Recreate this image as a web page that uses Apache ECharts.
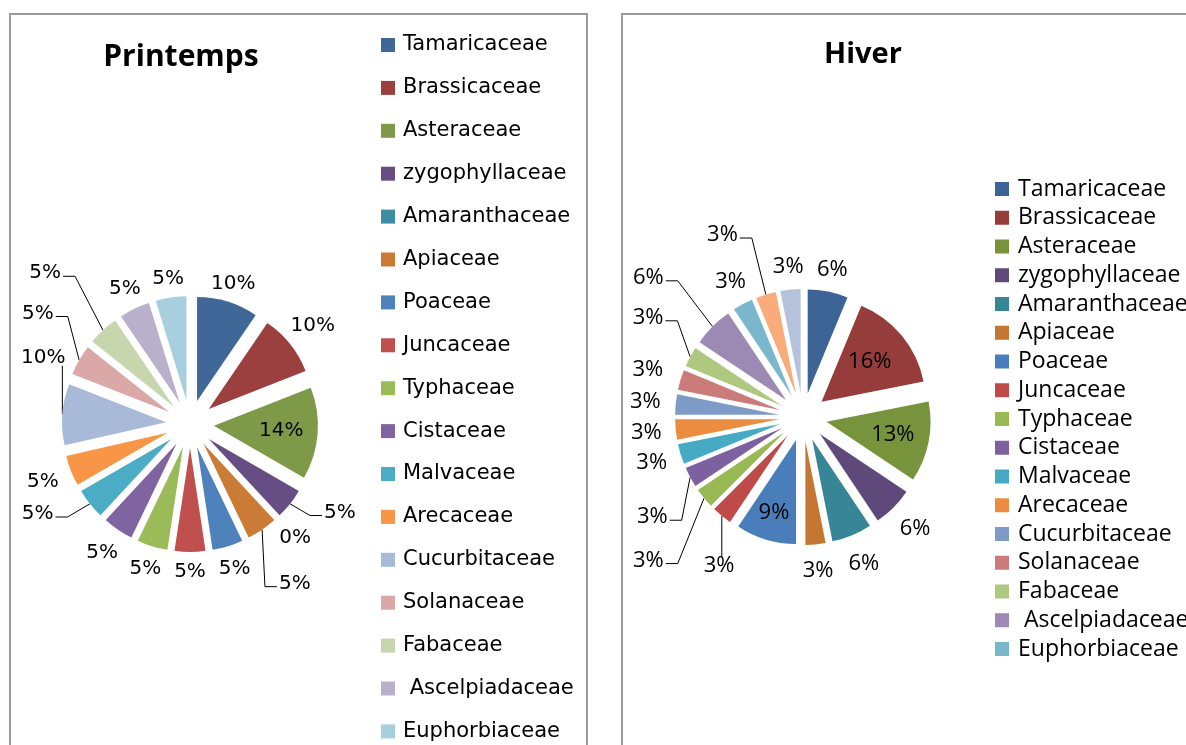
<!DOCTYPE html>
<html><head><meta charset="utf-8">
<script src="https://cdn.jsdelivr.net/npm/echarts@6/dist/echarts.min.js"></script>
<style>html,body{margin:0;padding:0;background:#fff}#c{width:1186px;height:745px}</style>
</head><body><div id="c"></div>
<script>
// ---- data ----
const families = ['Tamaricaceae','Brassicaceae','Asteraceae','zygophyllaceae','Amaranthaceae','Apiaceae','Poaceae','Juncaceae','Typhaceae','Cistaceae','Malvaceae','Arecaceae','Cucurbitaceae','Solanaceae','Fabaceae',' Ascelpiadaceae','Euphorbiaceae'];
const hiverExtraNames = ['Autre A','Autre B'];
const printempsCounts = [2,2,3,1,0,1,1,1,1,1,1,1,2,1,1,1,1];
const hiverCounts = [2,5,4,2,2,1,3,1,1,1,1,1,1,1,1,2,1,1,1];

// ---- styles ----
const printempsColors = ['#3F6898','#9B403E','#7E9A48','#664E84','#3D8CA3','#CA7B36','#4F81BD','#C0504D','#9BBB59','#8064A2','#4BACC6','#F79646','#A9B9D8','#DAA8A7','#C7D6AD','#B9B0CC','#A8CFDD'];
const hiverColors = ['#3C6496','#963C3A','#77933C','#5F497A','#378698','#C47633','#4A7EBB','#BE4B48','#98B954','#7D60A0','#46AAC5','#EB8D40','#7E9BC8','#CB7B79','#AFC880','#9C8AB5','#7BB7CC','#F9AB79','#B4C2DC'];

// label placement: o = outside end, i = inside, l = with leader line
const printempsLabelSpec = [
  {m:'o',g:8},{m:'o'},{m:'i',f:0.65},{m:'l',da:-8,d:174},{m:'o'},{m:'l',da:1,d:191},
  {m:'o'},{m:'o',g:10},{m:'o'},{m:'o',g:16},{m:'l',da:8,d:177},{m:'o'},
  {m:'l',da:20,d:161,v:true},{m:'l',da:6,d:188},{m:'l',da:-1,d:209},{m:'o',g:11},{m:'o',g:9}
];
const hiverLabelSpec = [
  {m:'o',g:11},{m:'i',f:0.6},{m:'i',f:0.65},{m:'o',g:15},{m:'o',g:19},{m:'o',g:15},
  {m:'i',f:0.73},{m:'l',da:-10,d:171,v:true},{m:'l',da:-3.5,d:211},{m:'l',da:-5.5,d:181},
  {m:'o',g:14},{m:'o',g:14},{m:'o',g:15},{m:'o',g:18},{m:'l',da:4.5,d:184},{m:'l',da:-3,d:208},
  {m:'o',g:13},{m:'l',da:-7,d:199},{m:'o',g:12}
];

const P = {cx:190, cy:424, R:104, off:24};
const H = {cx:803, cy:417, R:104, off:24};

function midAngles(values) {
  const total = values.reduce((a,b)=>a+b,0);
  const mids = []; let acc = 0;
  values.forEach(v => { mids.push((acc + v/2) / total * 360); acc += v; });
  return mids;
}

function makeLayout(mids, spec, geo) {
  const {cx, cy, R, off} = geo;
  return function (p) {
    const i = p.dataIndex, s = spec[i] || {m:'o'};
    const w = p.labelRect.width, h = p.labelRect.height;
    const a = mids[i] * Math.PI / 180;
    const dx = Math.sin(a), dy = -Math.cos(a);
    if (s.m === 'i') {
      const d = off + s.f * R;
      return {x: cx + d*dx, y: cy + d*dy, align:'center', verticalAlign:'middle'};
    }
    if (s.m === 'l') {
      const b = (mids[i] + s.da) * Math.PI / 180;
      const x = cx + s.d*Math.sin(b), y = cy - s.d*Math.cos(b);
      const px = cx + (off+R)*dx, py = cy + (off+R)*dy;
      let pts;
      if (s.v) {
        pts = [[px,py],[px, y > py ? y - h/2 + 2 : y + h/2 - 2]];
      } else {
        const side = x < px ? 1 : -1;
        const sx = x + side*(w/2 + 2), sy = y + 3;
        pts = [[px,py],[sx + side*12, sy],[sx, sy]];
      }
      return {x, y, align:'center', verticalAlign:'middle', labelLinePoints: pts};
    }
    const g = s.g != null ? s.g : 13;
    const t = Math.min(w/2/Math.max(Math.abs(dx),1e-6), h/2/Math.max(Math.abs(dy),1e-6));
    const d = off + R + t + g;
    return {x: cx + d*dx, y: cy + d*dy, align:'center', verticalAlign:'middle'};
  };
}

// one pie series per slice, its centre pushed out along the slice's mid angle (exploded pie)
function explodedPie(names, counts, colors, spec, geo, font, size) {
  const mids = midAngles(counts);
  const layout = makeLayout(mids, spec, geo);
  return names.map((n, k) => {
    const a = mids[k] * Math.PI / 180;
    return {
      type:'pie', silent:true,
      center:[geo.cx + geo.off*Math.sin(a), geo.cy - geo.off*Math.cos(a)],
      radius:geo.R, startAngle:90, clockwise:true,
      avoidLabelOverlap:false,
      emphasis:{disabled:true, scale:false},
      itemStyle:{borderWidth:0},
      label:{show:false, position:'outside', color:'#000', fontFamily:font, fontSize:size,
        formatter: p => Math.round(p.percent) + '%'},
      labelLine:{show:false, length:10, length2:6, lineStyle:{color:'#000', width:1}},
      labelLayout: layout,
      data: names.map((m, i) => ({
        name:m, value:counts[i],
        itemStyle:{color: i === k ? colors[i] : 'rgba(0,0,0,0)'},
        label:{show: i === k},
        labelLine:{show: i === k && spec[i].m === 'l'}
      }))
    };
  });
}

const hiverNames = families.concat(hiverExtraNames);

const chart = echarts.init(document.getElementById('c'), null, {renderer:'canvas'});
chart.setOption({
  animation:false,
  backgroundColor:'#fff',
  graphic:[
    {type:'rect', shape:{x:10, y:14, width:577, height:800}, style:{fill:'none', stroke:'#9a9a9a', lineWidth:2}},
    {type:'rect', shape:{x:622, y:14, width:700, height:800}, style:{fill:'none', stroke:'#9a9a9a', lineWidth:2}}
  ],
  title:[
    {text:'Printemps', left:181, top:40, textAlign:'center', padding:0,
     textStyle:{fontFamily:'Open Sans', fontWeight:'bold', fontSize:30, lineHeight:34, color:'#000'}},
    {text:'Hiver', left:863, top:38, textAlign:'center', padding:0,
     textStyle:{fontFamily:'Open Sans', fontWeight:'bold', fontSize:29, lineHeight:34, color:'#000'}}
  ],
  legend:[
    {orient:'vertical', left:381, top:33, padding:0, itemWidth:14, itemHeight:14, itemGap:18.9,
     icon:'rect', selectedMode:false,
     textStyle:{fontFamily:'DejaVu Sans', fontSize:21, lineHeight:24, color:'#000', padding:[0,0,0,3]},
     data: families.map((n,i)=>({name:n, itemStyle:{color:printempsColors[i]}}))},
    {orient:'vertical', left:995, top:175, padding:0, itemWidth:14, itemHeight:14, itemGap:0.75,
     icon:'rect', selectedMode:false,
     textStyle:{fontFamily:'Open Sans', fontSize:23, lineHeight:28, color:'#000', padding:[0,0,0,4]},
     data: families.map((n,i)=>({name:n, itemStyle:{color:hiverColors[i]}}))}
  ],
  series: explodedPie(families, printempsCounts, printempsColors, printempsLabelSpec, P, 'DejaVu Sans', 20)
    .concat(explodedPie(hiverNames, hiverCounts, hiverColors, hiverLabelSpec, H, 'Open Sans', 22))
});
</script>
</body></html>
